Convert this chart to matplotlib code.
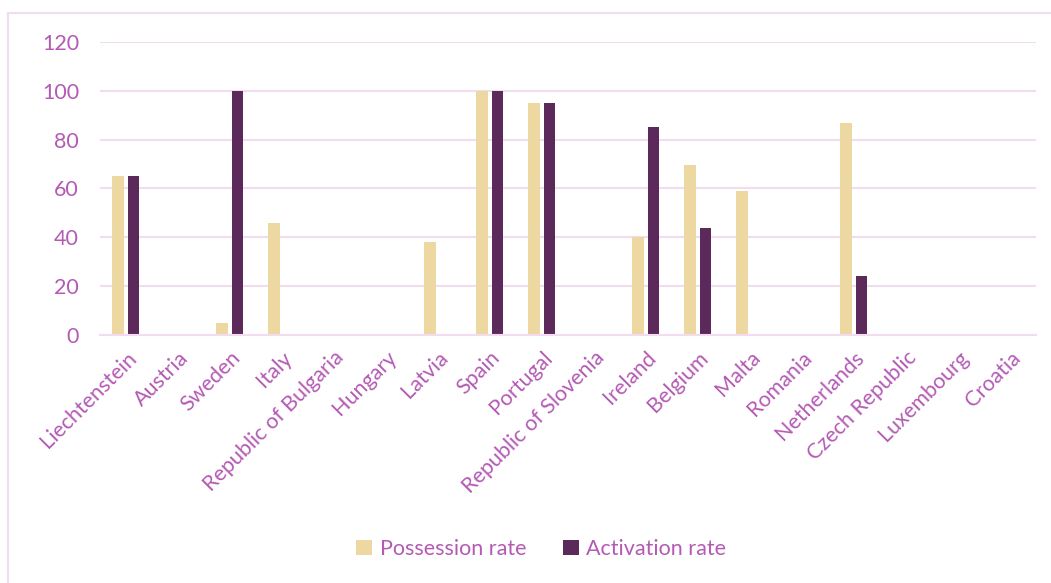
import matplotlib.pyplot as plt
import numpy as np
from matplotlib.lines import Line2D

countries = ['Liechtenstein', 'Austria', 'Sweden', 'Italy', 'Republic of Bulgaria',
             'Hungary', 'Latvia', 'Spain', 'Portugal', 'Republic of Slovenia',
             'Ireland', 'Belgium', 'Malta', 'Romania', 'Netherlands',
             'Czech Republic', 'Luxembourg', 'Croatia']
possession = [65, 0, 5, 46, 0, 0, 38, 100, 95, 0, 40, 69.5, 59, 0, 87, 0, 0, 0]
activation = [65, 0, 100, 0, 0, 0, 0, 100, 95, 0, 85, 44, 0, 0, 24, 0, 0, 0]

beige = '#EDD8A2'
plum = '#5C2A5A'
text_col = '#B45AB4'
grid_col = '#F1DCF0'

plt.rcParams['font.family'] = ['Lato', 'DejaVu Sans']

fig = plt.figure(figsize=(10.51, 5.83), dpi=100)
ax = fig.add_axes([0.0951, 0.4254, 0.8906, 0.5026])

x = np.arange(len(countries))
w = 0.23
ax.bar(x - 0.145, possession, w, color=beige, label='Possession rate')
ax.bar(x + 0.145, activation, w, color=plum, label='Activation rate')

ax.set_xlim(-0.5, len(countries) - 0.5)
ax.set_ylim(0, 120)
ax.set_yticks(range(0, 121, 20))
ax.yaxis.grid(True, color=grid_col, linewidth=1.5)
ax.set_axisbelow(True)
for side in ['top', 'right', 'left']:
    ax.spines[side].set_visible(False)
ax.spines['bottom'].set_color(grid_col)
ax.spines['bottom'].set_linewidth(1.5)
ax.tick_params(axis='both', length=0, labelcolor=text_col, labelsize=15.5)
ax.tick_params(axis='y', pad=15)
ax.set_xticks(x)
ax.set_xticklabels(countries, rotation=45, ha='right', rotation_mode='anchor')
ax.tick_params(axis='x', pad=9)

ax.legend(loc='center', bbox_to_anchor=(0.515, 0.0583), bbox_transform=fig.transFigure,
          ncol=2, frameon=False, fontsize=15.5, labelcolor=text_col,
          handlelength=0.75, handleheight=0.75, handletextpad=0.35, columnspacing=1.7)

# thin outline around the chart area
fig.add_artist(Line2D([0.0076, 1.0], [0.9777, 0.9777], color=grid_col, linewidth=1.5))
fig.add_artist(Line2D([0.0076, 0.0076], [0.0, 0.9777], color=grid_col, linewidth=1.5))

fig.savefig('out.png', dpi=100)
